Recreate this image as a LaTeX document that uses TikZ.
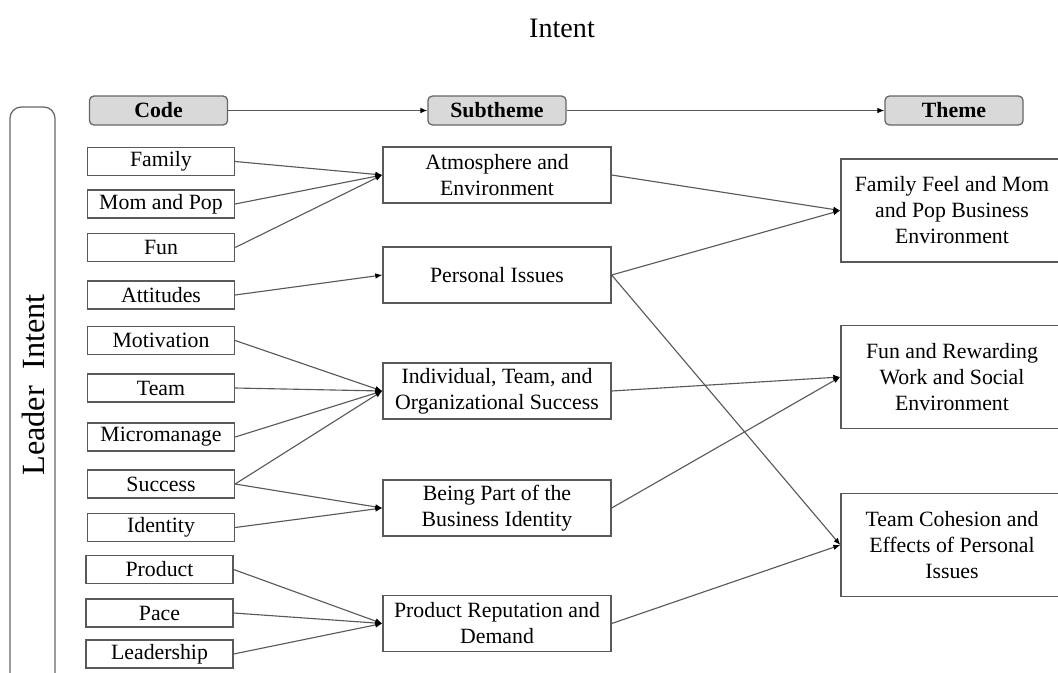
\documentclass[tikz,border=0pt]{standalone}
\usepackage{fontspec}
\setmainfont{Liberation Serif}
\usetikzlibrary{arrows.meta}
\def\txt{\fontsize{15.5}{18.5}\selectfont}
\tikzstyle{box} = [draw=black!65, line width=0.9pt, font=\txt, align=center, inner sep=0pt]
\tikzstyle{code} = [box, minimum width=3.675cm, minimum height=0.7cm]
\tikzstyle{sub} = [box, minimum width=5.7cm, minimum height=1.4cm]
\tikzstyle{theme} = [box, minimum width=5.55cm, minimum height=2.575cm]
\tikzstyle{head} = [draw=black!60, line width=0.9pt, rounded corners=3pt, fill=black!15,
  font=\txt\bfseries, minimum width=3.45cm, minimum height=0.72cm, inner sep=0pt]
\tikzstyle{arrow} = [black!65, line width=0.8pt, -{Latex[length=5pt,width=4pt,black]}]

\begin{document}
\begin{tikzpicture}[x=0.025cm,y=-0.025cm]
  \useasboundingbox (0,0) rectangle (1058,672);
  \node[font=\fontsize{20}{24}\selectfont] (title) at (562,28) {Intent};
  \draw[draw=black!60, line width=0.9pt, rounded corners=8pt] (10,700) -- (10,107) -- (55,107) -- (55,700);
  \node[rotate=90, font=\fontsize{23}{28}\selectfont] (leader) at (33,385) {Leader\ \ Intent};

  % headers
  \node[head] (hcode) at (158.5,110.5) {Code};
  \node[head] (hsub) at (497,110.5) {Subtheme};
  \node[head] (htheme) at (954,110.5) {Theme};
  \draw[arrow] (hcode.east) -- (hsub.west);
  \draw[arrow] (hsub.east) -- (htheme.west);

  % codes
  \node[code] (family) at (161,161.5) {Family};
  \node[code] (mompop) at (161,204) {Mom and Pop};
  \node[code] (fun) at (161,247.5) {Fun};
  \node[code] (attitudes) at (161,295) {Attitudes};
  \node[code] (motivation) at (161,340.5) {Motivation};
  \node[code] (team) at (161,388) {Team};
  \node[code] (micro) at (161,437) {Micromanage};
  \node[code] (success) at (161,484) {Success};
  \node[code] (identity) at (161,527.5) {Identity};
  \node[code] (product) at (159.5,569.5) {Product};
  \node[code] (pace) at (159.5,613) {Pace};
  \node[code] (leadership) at (159.5,654) {Leadership};

  % subthemes
  \node[sub] (atmos) at (497,175) {Atmosphere and\\Environment};
  \node[sub] (personal) at (497,275) {Personal Issues};
  \node[sub] (individual) at (497,391) {Individual, Team, and\\Organizational Success};
  \node[sub] (beingpart) at (497,508) {Being Part of the\\Business Identity};
  \node[sub] (prodrep) at (497,623.5) {Product Reputation and\\Demand};

  % themes
  \node[theme] (familyfeel) at (952,210.5) {Family Feel and Mom\\and Pop Business\\Environment};
  \node[theme] (funwork) at (952,377) {Fun and Rewarding\\Work and Social\\Environment};
  \node[theme] (cohesion) at (952,545) {Team Cohesion and\\Effects of Personal\\Issues};

  \foreach \c in {family,mompop,fun}
    \draw[arrow] (\c.east) -- (atmos.west);
  \draw[arrow] (attitudes.east) -- (personal.west);
  \foreach \c in {motivation,team,micro,success}
    \draw[arrow] (\c.east) -- (individual.west);
  \foreach \c in {success,identity}
    \draw[arrow] (\c.east) -- (beingpart.west);
  \foreach \c in {product,pace,leadership}
    \draw[arrow] (\c.east) -- (prodrep.west);

  \draw[arrow] (atmos.east) -- (familyfeel.west);
  \draw[arrow] (personal.east) -- (familyfeel.west);
  \draw[arrow] (personal.east) -- (cohesion.west);
  \draw[arrow] (individual.east) -- (funwork.west);
  \draw[arrow] (beingpart.east) -- (funwork.west);
  \draw[arrow] (prodrep.east) -- (cohesion.west);
\end{tikzpicture}
\end{document}
